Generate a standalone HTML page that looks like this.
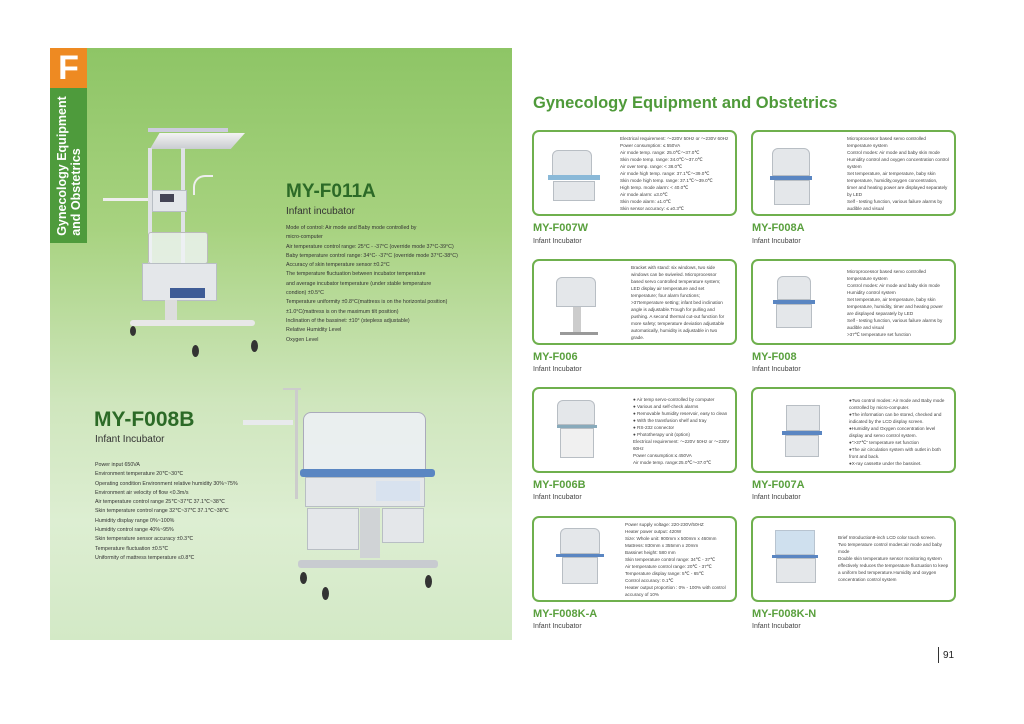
<!DOCTYPE html>
<html><head><meta charset="utf-8"><style>
*{margin:0;padding:0;box-sizing:border-box}
body{width:1024px;height:724px;background:#fff;position:relative;overflow:hidden;font-family:"Liberation Sans",sans-serif}
.a{position:absolute}
#panel{left:50px;top:48px;width:462px;height:592px;background:linear-gradient(180deg,#8ec566 0%,#a7d27f 30%,#cfe6bd 60%,#ddeed2 80%,#d3e9c6 100%)}
.tab{left:50px;top:48px;width:37px;height:40px;background:#ee8a22;color:#fff;font-weight:bold;font-size:34px;text-align:center;line-height:40px}
.vt{left:50px;top:88px;width:37px;height:155px;background:#4e9b3c}
.vt div{position:absolute;left:50%;top:50%;transform:translate(-50%,-50%) rotate(-90deg);white-space:nowrap;color:#fff;font-weight:bold;font-size:12.5px;line-height:14px;text-align:left}
.t1{color:#2c6a27;font-weight:bold}
.sub{color:#333}
.body{color:#333;font-size:5.3px;line-height:9.3px;white-space:nowrap}
.box{border:2px solid #6fb04e;border-radius:7px;width:205px;height:86px;background:#fff}
.bt{font-size:4.6px;line-height:7px;color:#444;white-space:nowrap}
.m{color:#5aa03e;font-weight:bold;font-size:11px}
.s{color:#444;font-size:7px}
.g{background:#e4e7ea;border:1px solid #b8bec4}
.bl{background:#5a86c2}
.w{border-radius:50%;background:#333}
</style></head><body>
<div id="panel" class="a"></div>
<div class="a tab">F</div>
<div class="a vt"><div>Gynecology Equipment<br>and Obstetrics</div></div>

<div class="a" style="left:148px;top:128px;width:80px;height:4px;background:#ccd;"></div>
<div class="a" style="left:150px;top:133px;width:95px;height:16px;background:linear-gradient(#f3f3f3,#c9ccd0);clip-path:polygon(10% 0,100% 0,85% 100%,0 100%)"></div>
<div class="a" style="left:148px;top:148px;width:4px;height:150px;background:#dfe2e5"></div>
<div class="a" style="left:181px;top:148px;width:4px;height:120px;background:#dfe2e5"></div>
<div class="a" style="left:103px;top:198px;width:45px;height:3px;background:#eee"></div>
<div class="a g" style="left:152px;top:190px;width:35px;height:22px"></div>
<div class="a" style="left:160px;top:194px;width:14px;height:8px;background:#445"></div>
<div class="a" style="left:148px;top:232px;width:60px;height:32px;background:rgba(240,244,246,.8);border:1px solid #bbb;border-radius:3px"></div>
<div class="a g" style="left:142px;top:263px;width:75px;height:38px"></div>
<div class="a" style="left:170px;top:288px;width:35px;height:10px;background:#3f5c96"></div>
<div class="a" style="left:165px;top:300px;width:12px;height:20px;background:#ddd"></div>
<div class="a" style="left:130px;top:320px;width:125px;height:6px;background:#e8e8e8;border-radius:3px"></div>
<div class="a w" style="left:130px;top:326px;width:6px;height:10px"></div>
<div class="a w" style="left:192px;top:345px;width:7px;height:12px"></div>
<div class="a w" style="left:251px;top:340px;width:7px;height:12px"></div>
<div class="a" style="left:193px;top:175px;width:20px;height:20px;border:2px solid #eee;border-right:none;border-bottom:none;border-radius:12px 0 0 0"></div>

<div class="a t1" style="left:286px;top:181px;font-size:19px">MY-F011A</div>
<div class="a sub" style="left:286px;top:206px;font-size:10px">Infant incubator</div>
<div class="a body" style="left:286px;top:224px">Mode of control: Air mode and Baby mode controlled by<br>micro-computer<br>Air temperature control range: 25°C - -37°C (override mode 37°C-39°C)<br>Baby temperature control range: 34°C- -37°C (override mode 37°C-38°C)<br>Accuracy of skin temperature sensor ±0.2°C<br>The temperature fluctuation between incubator temperature<br>and average incubator temperature (under stable temperature<br>condion) ±0.5°C<br>Temperature uniformity ±0.8°C(mattress is on the horizontal position)<br>±1.0°C(mattress is on the maximum tilt position)<br>Inclination of the bassinet: ±10° (stepless adjustable)<br>Relative Humidity Level<br>Oxygen Level</div>

<div class="a t1" style="left:94px;top:408px;font-size:21px">MY-F008B</div>
<div class="a sub" style="left:95px;top:434px;font-size:10px">Infant Incubator</div>
<div class="a body" style="left:95px;top:461px;line-height:9.3px">Power input 650VA<br>Environment temperature 20℃~30℃<br>Operating condition  Environment relative humidity 30%~75%<br>Environment air velocity of flow  &lt;0.3m/s<br>Air temperature control range 25℃~37℃  37.1℃~38℃<br>Skin temperature control range 32℃~37℃  37.1℃~38℃<br>Humidity display range 0%~100%<br>Humidity control range 40%~95%<br>Skin temperature sensor accuracy ±0.3℃<br>Temperature fluctuation ±0.5℃<br>Uniformity of mattress temperature ≤0.8℃</div>
<div class="a" style="left:295px;top:389px;width:3px;height:110px;background:#ccc"></div>
<div class="a" style="left:283px;top:388px;width:18px;height:2px;background:#ccc"></div>
<div class="a" style="left:243px;top:420px;width:50px;height:5px;background:#e8eaec"></div>
<div class="a" style="left:303px;top:412px;width:123px;height:58px;background:rgba(236,240,244,.9);border:1px solid #aab;border-radius:8px 8px 0 0"></div>
<div class="a bl" style="left:300px;top:469px;width:135px;height:8px;border-radius:3px"></div>
<div class="a g" style="left:305px;top:477px;width:120px;height:30px"></div>
<div class="a" style="left:376px;top:481px;width:44px;height:20px;background:#d8e2ef"></div>
<div class="a g" style="left:307px;top:508px;width:52px;height:42px"></div>
<div class="a g" style="left:382px;top:508px;width:42px;height:35px"></div>
<div class="a" style="left:360px;top:508px;width:20px;height:50px;background:#d0d3d6"></div>
<div class="a" style="left:298px;top:560px;width:140px;height:8px;background:#c8cbd0;border-radius:3px"></div>
<div class="a w" style="left:300px;top:572px;width:7px;height:12px"></div>
<div class="a w" style="left:322px;top:587px;width:7px;height:13px"></div>
<div class="a w" style="left:425px;top:575px;width:7px;height:13px"></div>

<div class="a" style="left:533px;top:94px;font-size:16.5px;font-weight:bold;color:#4f9a3a">Gynecology Equipment and Obstetrics</div>

<div class="a box" style="left:532px;top:130px"></div>
<div class="a g" style="left:552px;top:150px;width:40px;height:26px;border-radius:6px 6px 0 0"></div>
<div class="a" style="left:548px;top:175px;width:52px;height:5px;background:#8ab9d8"></div>
<div class="a g" style="left:553px;top:181px;width:42px;height:20px"></div>
<div class="a bt" style="left:620px;top:135px">Electrical requirement: ～220V 50Hz or ～230V 60Hz<br>Power consumption: ≤ 550VA<br>Air mode temp. range: 25.0℃～37.0℃<br>Skin mode temp. range: 34.0℃～37.0℃<br>Air over temp. range: &lt; 38.0℃<br>Air mode high temp. range: 37.1℃～39.0℃<br>Skin mode high temp. range: 37.1℃～39.0℃<br>High temp. mode alarm: &lt; 40.0℃<br>Air mode alarm: ±3.0℃<br>Skin mode alarm: ±1.0℃<br>Skin sensor accuracy: ≤ ±0.3℃</div>
<div class="a m" style="left:533px;top:222px">MY-F007W</div>
<div class="a s" style="left:533px;top:238px">Infant Incubator</div>

<div class="a box" style="left:751px;top:130px"></div>
<div class="a g" style="left:772px;top:148px;width:38px;height:28px;border-radius:6px 6px 0 0"></div>
<div class="a bl" style="left:770px;top:176px;width:42px;height:4px"></div>
<div class="a g" style="left:774px;top:180px;width:36px;height:25px"></div>
<div class="a bt" style="left:847px;top:135px">Microprocessor based servo controlled<br>temperature system<br>Control modes: Air mode and baby skin mode<br>Humidity control and oxygen concentration control<br>system<br>Set temperature, air temperature, baby skin<br>temperature, humidity,oxygen concentration,<br>timer and heating power are displayed separately<br>by LED<br>Self - testing function, various failure alarms by<br>audible and visual</div>
<div class="a m" style="left:752px;top:222px">MY-F008A</div>
<div class="a s" style="left:752px;top:238px">Infant Incubator</div>

<div class="a box" style="left:532px;top:259px"></div>
<div class="a g" style="left:556px;top:277px;width:40px;height:30px;border-radius:6px 6px 0 0"></div>
<div class="a" style="left:573px;top:307px;width:8px;height:27px;background:#ccc"></div>
<div class="a" style="left:560px;top:332px;width:38px;height:3px;background:#999"></div>
<div class="a bt" style="left:631px;top:264px">Bracket with stand: six windows, two side<br>windows can be swiveled.    Microprocessor<br>based servo controlled temperature system;<br>LED display air temperature and set<br>temperature; four alarm functions;<br>&gt;37temperature setting; infant bed inclination<br>angle is adjustable.Trough for pulling and<br>pushing.  A second thermal cut-out function for<br>more safety; temperature deviation adjustable<br>automatically, humidity is adjustable in two<br>grade.</div>
<div class="a m" style="left:533px;top:351px">MY-F006</div>
<div class="a s" style="left:533px;top:366px">Infant Incubator</div>

<div class="a box" style="left:751px;top:259px"></div>
<div class="a g" style="left:777px;top:276px;width:34px;height:24px;border-radius:6px 6px 0 0"></div>
<div class="a bl" style="left:773px;top:300px;width:42px;height:4px"></div>
<div class="a g" style="left:776px;top:304px;width:36px;height:24px"></div>
<div class="a bt" style="left:847px;top:268px">Microprocessor based servo controlled<br>temperature system<br>Control modes: Air mode and baby skin mode<br>Humidity control system<br>Set temperature, air temperature, baby skin<br>temperature, humidity, timer and heating power<br>are displayed separately by LED<br>Self - testing function, various failure alarms by<br>audible and visual<br>&gt;37℃ temperature set function</div>
<div class="a m" style="left:752px;top:351px">MY-F008</div>
<div class="a s" style="left:752px;top:366px">Infant Incubator</div>

<div class="a box" style="left:532px;top:387px"></div>
<div class="a g" style="left:557px;top:400px;width:38px;height:25px;border-radius:6px 6px 0 0"></div>
<div class="a" style="left:557px;top:425px;width:40px;height:3px;background:#8ab"></div>
<div class="a g" style="left:560px;top:428px;width:34px;height:30px;background:#f0f0f0"></div>
<div class="a bt" style="left:633px;top:396px">● Air temp servo-controlled by computer<br>● Various and self-check alarms<br>● Removable humidity reservoir, easy to clean<br>● With the transfusion shelf and tray<br>● RS-232 connector<br>● Phototherapy unit (option)<br>Electrical requirement: ～220V 50Hz or ～230V<br>60Hz<br>Power consumption:≤ 450VA<br>Air mode temp. range:25.0℃～37.0℃</div>
<div class="a m" style="left:533px;top:479px">MY-F006B</div>
<div class="a s" style="left:533px;top:494px">Infant Incubator</div>

<div class="a box" style="left:751px;top:387px"></div>
<div class="a g" style="left:786px;top:405px;width:34px;height:26px"></div>
<div class="a bl" style="left:782px;top:431px;width:40px;height:4px"></div>
<div class="a g" style="left:785px;top:435px;width:34px;height:22px"></div>
<div class="a bt" style="left:849px;top:397px">●Two control modes: Air mode and Baby mode<br>controlled by micro-computer.<br>●The information can be stored, checked and<br>indicated by the LCD display screen.<br>●Humidity and Oxygen concentration level<br>display and servo control system.<br>●"&gt;37℃" temperature set function<br>●The air circulation system with outlet in both<br>front and back.<br>●X-ray cassette under the bassinet.</div>
<div class="a m" style="left:752px;top:479px">MY-F007A</div>
<div class="a s" style="left:752px;top:494px">Infant Incubator</div>

<div class="a box" style="left:532px;top:516px"></div>
<div class="a g" style="left:560px;top:528px;width:40px;height:26px;border-radius:6px 6px 0 0"></div>
<div class="a bl" style="left:556px;top:554px;width:48px;height:3px"></div>
<div class="a g" style="left:562px;top:557px;width:36px;height:27px"></div>
<div class="a bt" style="left:625px;top:521px">Power supply voltage: 220-230V/50HZ<br>Heater power output: 420W<br>Size: Whole unit: 900mm x 500mm x 460mm<br> Mattress: 830mm x 355mm x 20mm<br> Bassinet height: 580 mm<br>Skin temperature control range: 34℃ - 37℃<br>Air temperature control range: 20℃ - 37℃<br>Temperature display range: 5℃ - 65℃<br>Control accuracy: 0.1℃<br>Heater output proportion : 0% - 100% with control<br>accuracy of 10%</div>
<div class="a m" style="left:533px;top:608px">MY-F008K-A</div>
<div class="a s" style="left:533px;top:623px">Infant Incubator</div>

<div class="a box" style="left:751px;top:516px"></div>
<div class="a" style="left:775px;top:530px;width:40px;height:25px;background:#cfe0ee;border:1px solid #b8c4d0"></div>
<div class="a bl" style="left:772px;top:555px;width:46px;height:3px"></div>
<div class="a g" style="left:776px;top:558px;width:40px;height:25px"></div>
<div class="a bt" style="left:838px;top:534px">Brief Introduction9-inch LCD color touch screen.<br>Two temperature control modes:air mode and baby<br>mode<br>Double skin temperature sensor monitoring system<br>effectively reduces the temperature fluctuation to keep<br>a uniform bed temperature.Humidity and oxygen<br>concentration control system</div>
<div class="a m" style="left:752px;top:608px">MY-F008K-N</div>
<div class="a s" style="left:752px;top:623px">Infant Incubator</div>

<div class="a" style="left:938px;top:647px;width:1px;height:16px;background:#333"></div>
<div class="a" style="left:943px;top:650px;font-size:10px;color:#222">91</div>
</body></html>
